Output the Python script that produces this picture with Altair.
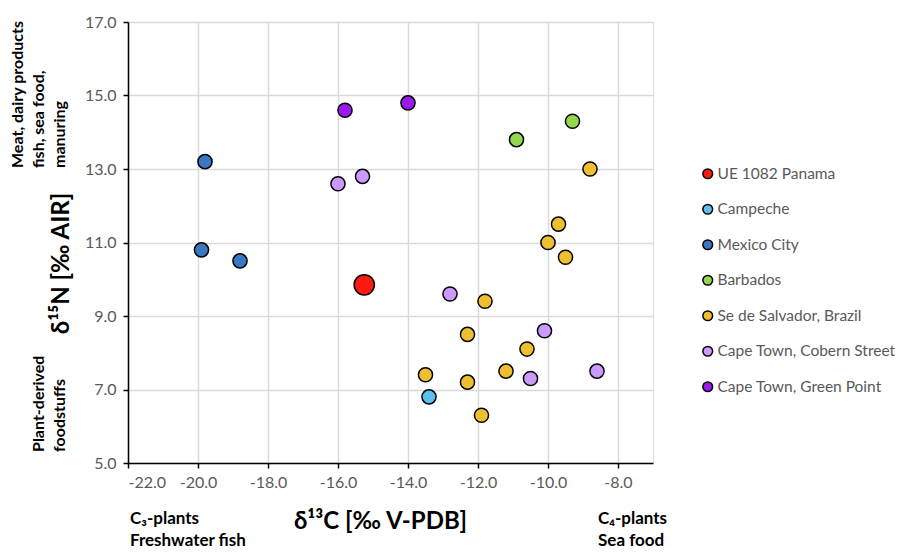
import altair as alt
import pandas as pd

groups = ["UE  1082 Panama", "Campeche", "Mexico City", "Barbados",
          "Se de Salvador, Brazil", "Cape Town, Cobern Street", "Cape Town, Green Point"]
colors = ["#FF1A10", "#5BC0EB", "#3A78C2", "#92D84E", "#EEC030", "#CC99FF", "#9B1AF0"]

panama_x = [-15.25]
panama_y = [9.85]
campeche_x = [-13.4]
campeche_y = [6.8]
mexico_x = [-19.8, -19.9, -18.8]
mexico_y = [13.2, 10.8, 10.5]
barbados_x = [-10.9, -9.3]
barbados_y = [13.8, 14.3]
salvador_x = [-8.8, -9.7, -10.0, -9.5, -11.8, -12.3, -13.5, -12.3, -10.6, -11.2, -11.9]
salvador_y = [13.0, 11.5, 11.0, 10.6, 9.4, 8.5, 7.4, 7.2, 8.1, 7.5, 6.3]
cobern_x = [-16.0, -15.3, -12.8, -10.1, -10.5, -8.6]
cobern_y = [12.6, 12.8, 9.6, 8.6, 7.3, 7.5]
green_x = [-15.8, -14.0]
green_y = [14.6, 14.8]

series = [(panama_x, panama_y), (campeche_x, campeche_y), (mexico_x, mexico_y),
          (barbados_x, barbados_y), (salvador_x, salvador_y), (cobern_x, cobern_y),
          (green_x, green_y)]

x_ticks = [-22, -20, -18, -16, -14, -12, -10, -8]
y_ticks = [5, 7, 9, 11, 13, 15, 17]

rows = []
for g, (xs, ys) in zip(groups, series):
    for xv, yv in zip(xs, ys):
        rows.append({"group": g, "d13C": xv, "d15N": yv,
                     "big": "big" if g == groups[0] else "normal"})
df = pd.DataFrame(rows)

FONT = "Lato"
LABEL_EXPR = "replace(format(datum.value, '.1f'), '\u2212', '-')"

points = alt.Chart(df).mark_point(
    filled=True, shape="circle", stroke="black", strokeWidth=1.5, opacity=1
).encode(
    x=alt.X("d13C:Q", scale=alt.Scale(domain=[-22, -7], nice=False, zero=False),
            axis=alt.Axis(values=x_ticks, labelExpr=LABEL_EXPR, title="δ¹³C [‰ V-PDB]",
                          titleX=252, titleY=58, titleBaseline="middle",
                          titleFontSize=24, titleFontWeight="bold", titleColor="black",
                          titleFont=FONT,
                          labelFontSize=16, labelColor="#595959", labelFont=FONT,
                          labelPadding=6, labelOverlap=False,
                          domainColor="black", domainWidth=1.5,
                          tickColor="black", tickSize=5, tickWidth=1.5,
                          gridColor="#D9D9D9", gridWidth=1.5)),
    y=alt.Y("d15N:Q", scale=alt.Scale(domain=[5, 17], nice=False, zero=False),
            axis=alt.Axis(values=y_ticks, format=".1f", title="δ¹⁵N [‰ AIR]",
                          titleX=-67, titleY=241, titleAngle=270,
                          titleBaseline="middle", titleAlign="center",
                          titleFontSize=24, titleFontWeight="bold", titleColor="black",
                          titleFont=FONT,
                          labelFontSize=16, labelColor="#595959", labelFont=FONT,
                          labelPadding=7,
                          domainColor="black", domainWidth=1.5,
                          tickColor="black", tickSize=5, tickWidth=1.5,
                          gridColor="#D9D9D9", gridWidth=1.5)),
    fill=alt.Fill("group:N", scale=alt.Scale(domain=groups, range=colors),
                  legend=alt.Legend(title=None, orient="none", legendX=572, legendY=144,
                                    symbolType="circle", symbolSize=95,
                                    symbolStrokeColor="black", symbolStrokeWidth=1.5,
                                    symbolOpacity=1,
                                    labelFontSize=15.5, labelColor="#595959", labelFont=FONT,
                                    labelOffset=2, rowPadding=17.5, labelLimit=300)),
    size=alt.Size("big:N", scale=alt.Scale(domain=["big", "normal"], range=[410, 200]),
                  legend=None),
)

left_notes = pd.DataFrame({
    "text": ["Meat, dairy products", "fish, sea food,", "manuring",
             "Plant-derived", "foodstuffs"],
    "px": [-110, -89, -68, -89, -68],
    "py": [146, 146, 146, 430, 430],
})
bottom_notes = pd.DataFrame({
    "text": ["C₃-plants", "Freshwater fish", "C₄-plants", "Sea food"],
    "px": [2, 2, 470, 470],
    "py": [497, 519, 497, 519],
})

left_text = alt.Chart(left_notes).mark_text(
    angle=270, align="left", baseline="middle", fontSize=16, fontWeight="bold",
    font=FONT, color="black"
).encode(x=alt.X("px:Q", scale=None), y=alt.Y("py:Q", scale=None), text="text:N")

bottom_text = alt.Chart(bottom_notes).mark_text(
    align="left", baseline="middle", fontSize=17, fontWeight="bold",
    font=FONT, color="black"
).encode(x=alt.X("px:Q", scale=None), y=alt.Y("py:Q", scale=None), text="text:N")

chart = alt.layer(points, left_text, bottom_text).properties(
    width=525, height=441,
    autosize=alt.AutoSizeParams(type="none"),
    padding={"left": 120, "top": 14, "right": 256, "bottom": 87},
).configure_view(stroke="#404040", strokeWidth=1.5).configure(background="white")

chart.save("out.html", embed_options={"renderer": "svg", "actions": False})
